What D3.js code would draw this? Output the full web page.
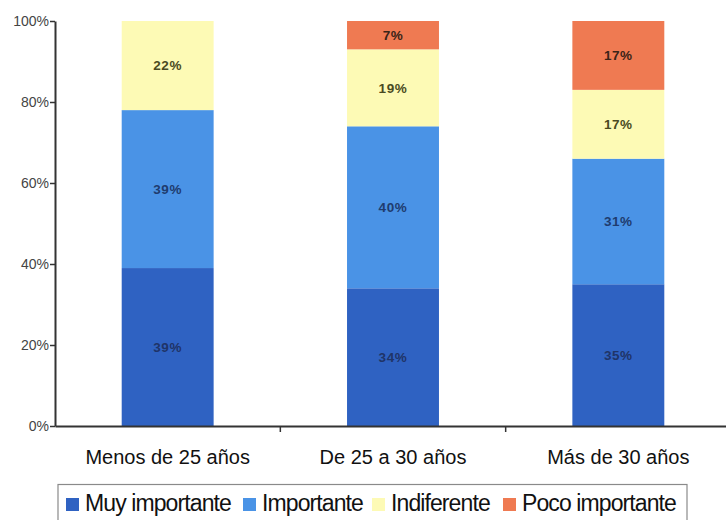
<!DOCTYPE html>
<html>
<head>
<meta charset="utf-8">
<script src="https://cdn.jsdelivr.net/npm/d3@7"></script>
<style>
  html, body { margin: 0; padding: 0; background: #fff; }
  svg { display: block; font-family: "Liberation Sans", Arial, sans-serif; }
</style>
</head>
<body>
<svg id="chart" width="726" height="520"></svg>
<script>
const categories = ["Menos de 25 años", "De 25 a 30 años", "Más de 30 años"];
const seriesNames = ["Muy importante", "Importante", "Indiferente", "Poco importante"];
const muyImportante = [39, 34, 35];
const importante = [39, 40, 31];
const indiferente = [22, 19, 17];
const pocoImportante = [0, 7, 17];
const yTicks = [0, 20, 40, 60, 80, 100];
const colors = ["#2f62c2", "#4a93e6", "#fdfab5", "#ef7a52"];
const labelColors = ["#1f3468", "#1f3c6e", "#4a4a22", "#3a2418"];

const seriesValues = [muyImportante, importante, indiferente, pocoImportante];
const rows = categories.map((c, i) => {
  const r = { cat: c };
  seriesNames.forEach((s, j) => r[s] = seriesValues[j][i]);
  return r;
});

const svg = d3.select("#chart");
const y = d3.scaleLinear().domain([0, 100]).range([426, 21]);
const x = d3.scaleBand().domain(categories).range([55, 731]).paddingInner(0.592).paddingOuter(0.296);

const stacked = d3.stack().keys(seriesNames)(rows);

const g = svg.append("g");
stacked.forEach((layer, j) => {
  g.selectAll(null).data(layer).enter().append("rect")
    .attr("x", d => x(d.data.cat))
    .attr("width", x.bandwidth())
    .attr("y", d => y(d[1]))
    .attr("height", d => y(d[0]) - y(d[1]))
    .attr("fill", colors[j]);
  g.selectAll(null).data(layer.filter(d => d[1] - d[0] > 0)).enter().append("text")
    .attr("x", d => x(d.data.cat) + x.bandwidth() / 2)
    .attr("y", d => (y(d[0]) + y(d[1])) / 2)
    .attr("dy", "0.35em")
    .attr("text-anchor", "middle")
    .attr("font-size", 13.5)
    .attr("font-weight", "bold")
    .attr("letter-spacing", 0.6)
    .attr("fill", labelColors[j])
    .text(d => (d[1] - d[0]) + "%");
});

// Y axis
const yAxis = d3.axisLeft(y).tickValues(yTicks).tickFormat(d => d + "%").tickSize(5).tickSizeOuter(0);
const ya = svg.append("g").attr("transform", "translate(55,0)").call(yAxis);
ya.select(".domain").attr("stroke", "#333").attr("stroke-width", 2);
ya.selectAll(".tick line").attr("stroke", "#333").attr("stroke-width", 1.5);
ya.selectAll(".tick text").attr("font-size", 14).attr("fill", "#444").attr("x", -6)
  .attr("font-family", "Liberation Sans, Arial, sans-serif");

// X axis
const xAxis = d3.axisBottom(x).tickSize(0).tickSizeOuter(0);
const xa = svg.append("g").attr("transform", "translate(0,426)").call(xAxis);
xa.select(".domain").attr("stroke", "#333").attr("stroke-width", 2);
xa.selectAll(".tick text").attr("font-size", 20).attr("fill", "#111").attr("dy", 0).attr("y", 38)
  .attr("font-family", "Liberation Sans, Arial, sans-serif");
// separator ticks between categories
const bounds = categories.slice(1).map(c => x(c) - x.step() * x.paddingInner() / 2);
svg.append("g").selectAll("line").data(bounds).enter().append("line")
  .attr("x1", d => d).attr("x2", d => d).attr("y1", 426).attr("y2", 432)
  .attr("stroke", "#333").attr("stroke-width", 1.5);

// Legend
const legend = svg.append("g");
legend.append("rect").attr("x", 58).attr("y", 484.5).attr("width", 629).attr("height", 40)
  .attr("fill", "#fff").attr("stroke", "#8a8a8a").attr("stroke-width", 1.2);
const legendX = [66, 243, 372, 503];
seriesNames.forEach((s, j) => {
  legend.append("rect").attr("x", legendX[j]).attr("y", 498).attr("width", 13).attr("height", 13)
    .attr("fill", colors[j]);
  legend.append("text").attr("x", legendX[j] + 19).attr("y", 511)
    .attr("font-size", 23).attr("letter-spacing", -0.9).attr("fill", "#111")
    .text(s);
});
</script>
</body>
</html>
